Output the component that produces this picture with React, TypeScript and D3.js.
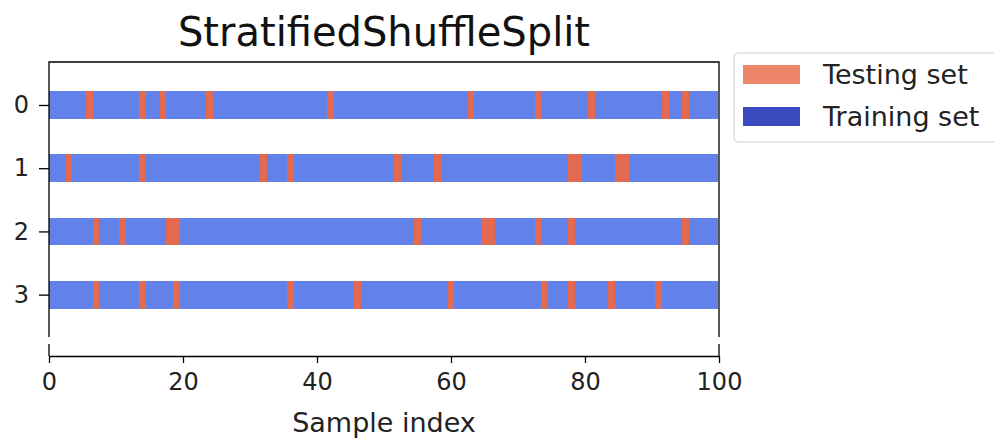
import React, { useEffect, useRef } from 'react';
import * as d3 from 'd3';

const splits = [0, 1, 2, 3];
const nSamples = 100;
const xTicks = [0, 20, 40, 60, 80, 100];

// test indices
const testSplit0 = [6, 14, 17, 24, 42, 63, 73, 81, 92, 95];
const testSplit1 = [3, 14, 32, 36, 52, 58, 78, 79, 85, 86];
const testSplit2 = [7, 11, 18, 19, 55, 65, 66, 73, 78, 95];
const testSplit3 = [7, 14, 19, 36, 46, 60, 74, 78, 84, 91];
const testSets = [testSplit0, testSplit1, testSplit2, testSplit3];

const legendLabels = ['Testing set', 'Training set'];

export default function App() {
  const ref = useRef<SVGSVGElement>(null);

  useEffect(() => {
    if (!ref.current) return;
    const svg = d3.select(ref.current);
    svg.selectAll('*').remove();

    const font = '"DejaVu Sans", sans-serif';
    const left = 49, right = 719, top = 62, bottom = 337;
    const axisY = 356;

    const x = d3.scaleLinear().domain([0, nSamples]).range([left, right]);
    const y = d3.scaleLinear().domain([-0.68, 3.67]).range([top, bottom]);

    const trainColor = '#6282EA';
    const testColor = '#E36A51';

    svg.append('defs').append('clipPath').attr('id', 'plot-clip')
      .append('rect')
      .attr('x', left).attr('y', top)
      .attr('width', right - left).attr('height', bottom - top);

    const plot = svg.append('g').attr('clip-path', 'url(#plot-clip)')
      .attr('shape-rendering', 'crispEdges');
    const barH = y(0.22) - y(-0.22);
    const trainW = 11; // marker width in px, like matplotlib's '_' marker
    const testW = x(1) - x(0);

    splits.forEach((s, si) => {
      const test = new Set(testSets[si]);
      const samples = d3.range(nSamples).map(i => ({ i, test: test.has(i) }));
      const row = plot.append('g');
      // training first, testing on top
      row.selectAll('rect.train')
        .data(samples.filter(d => !d.test))
        .enter().append('rect')
        .attr('x', d => x(d.i) - trainW / 2)
        .attr('width', trainW)
        .attr('y', y(s) - barH / 2)
        .attr('height', barH)
        .attr('fill', trainColor);
      row.selectAll('rect.test')
        .data(samples.filter(d => d.test))
        .enter().append('rect')
        .attr('x', d => x(d.i) - testW / 2)
        .attr('width', testW)
        .attr('y', y(s) - barH / 2)
        .attr('height', barH)
        .attr('fill', testColor);
    });

    // spines
    const spines = svg.append('g').attr('stroke', '#000').attr('stroke-width', 1.3).attr('fill', 'none');
    spines.append('path').attr('d', `M${left},${bottom}V${top}H${right}V${bottom}`);
    spines.append('line').attr('x1', x(0)).attr('x2', x(0)).attr('y1', 344).attr('y2', axisY);
    spines.append('line').attr('x1', x(100)).attr('x2', x(100)).attr('y1', 344).attr('y2', axisY);

    // x axis
    const xAxis = svg.append('g')
      .attr('transform', `translate(0,${axisY})`)
      .call(d3.axisBottom(x).tickValues(xTicks).tickSizeInner(7).tickSizeOuter(0).tickPadding(10)
        .tickFormat(d => String(d)));
    xAxis.select('.domain').attr('stroke', '#000').attr('stroke-width', 1.3);
    xAxis.selectAll('.tick line').attr('stroke', '#000').attr('stroke-width', 1.3);
    xAxis.selectAll('.tick text').attr('font-family', font).attr('font-size', 24).attr('fill', '#222');

    // y axis
    const yAxis = svg.append('g')
      .attr('transform', `translate(${left},0)`)
      .call(d3.axisLeft(y).tickValues(splits).tickSizeInner(10).tickSizeOuter(0).tickPadding(10)
        .tickFormat(d => String(d)));
    yAxis.select('.domain').remove();
    yAxis.selectAll('.tick line').attr('stroke', '#000').attr('stroke-width', 1.3);
    yAxis.selectAll('.tick text').attr('font-family', font).attr('font-size', 24).attr('fill', '#222');

    svg.append('text')
      .attr('x', (left + right) / 2).attr('y', 432)
      .attr('text-anchor', 'middle')
      .attr('font-family', font).attr('font-size', 27).attr('fill', '#222')
      .text('Sample index');

    svg.append('text')
      .attr('x', (left + right) / 2).attr('y', 46)
      .attr('text-anchor', 'middle')
      .attr('font-family', font).attr('font-size', 40).attr('fill', '#111')
      .text('StratifiedShuffleSplit');

    // legend
    const legend = svg.append('g');
    legend.append('rect')
      .attr('x', 734).attr('y', 53).attr('width', 280).attr('height', 89)
      .attr('rx', 4).attr('fill', '#fff').attr('fill-opacity', 0.8)
      .attr('stroke', '#d0d0d0');
    const legendColors = ['#EE8669', '#3B4CC0'];
    legendLabels.forEach((label, i) => {
      const ly = 65 + i * 42;
      legend.append('rect')
        .attr('x', 743).attr('y', ly).attr('width', 57).attr('height', 19)
        .attr('fill', legendColors[i]);
      legend.append('text')
        .attr('x', 823).attr('y', ly + 19)
        .attr('font-family', font).attr('font-size', 27).attr('fill', '#222')
        .text(label);
    });
  }, []);

  return (
    <svg ref={ref} width={994} height={441}
      style={{ position: 'absolute', left: 0, top: 0, background: '#fff' }} />
  );
}
